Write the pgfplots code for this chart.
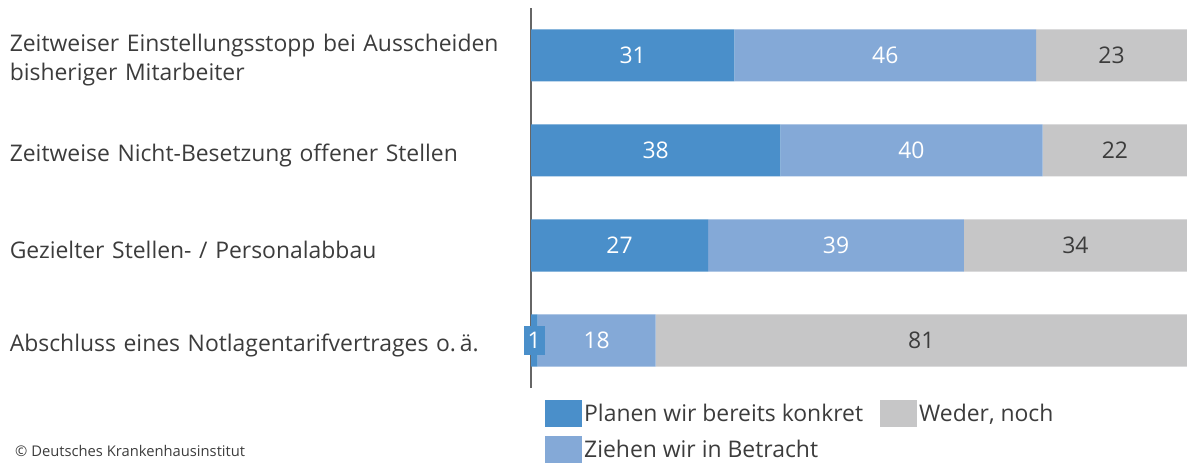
\documentclass[border=0pt]{standalone}
\usepackage{fontspec}
\setmainfont{Open Sans}
\usepackage{pgfplots}
\usepackage{pgfplotstable}
\pgfplotsset{compat=1.18}
\definecolor{cDark}{HTML}{4A8FCA}
\definecolor{cLight}{HTML}{84A9D7}
\definecolor{cGrey}{HTML}{C6C6C7}
\definecolor{cText}{HTML}{3C3C3C}
\definecolor{cAxis}{HTML}{666666}

% segment values
\pgfplotstableread{
y v
3 31
2 38
1 27
0 1
}\planen
\pgfplotstableread{
y v
3 46
2 40
1 39
0 18
}\ziehen
\pgfplotstableread{
y v
3 23
2 22
1 34
0 81
}\weder
% label positions (segment midpoints)
\pgfplotstableread{
x y lab
15.5 3 31
19 2 38
13.5 1 27
0.5 0 1
}\labA
\pgfplotstableread{
x y lab
54 3 46
58 2 40
46.5 1 39
10 0 18
}\labB
\pgfplotstableread{
x y lab
88.5 3 23
89 2 22
83 1 34
59.5 0 81
}\labC

\pgfplotsset{myleg/.style={legend image code/.code={\fill[##1] (0bp,-13.5bp) rectangle (37bp,13.5bp);}},
  labplot/.style={only marks, mark=none, forget plot, point meta=explicit symbolic,
    nodes near coords, every node near coord/.style={anchor=center, font=\fontsize{23}{27}\selectfont, #1}},
  geom/.style={at={(531bp,76bp)}, anchor=south west,
  scale only axis, width=656bp, height=380bp,
  xmin=0, xmax=100, ymin=-0.5, ymax=3.5, clip=false}}

\begin{document}
\begin{tikzpicture}
\useasboundingbox (0,0) rectangle (1187bp,464bp);
\begin{axis}[
  geom,
  xbar stacked, bar width=52bp,
  hide x axis,
  axis y line*=left,
  y axis line style={draw=cAxis, line width=2bp, -},
  ytick={0,1,2,3},
  yticklabels={Abschluss eines Notlagentarifvertrages o.\,ä., Gezielter Stellen- / Personalabbau, Zeitweise Nicht-Besetzung offener Stellen, {Zeitweiser Einstellungsstopp bei Ausscheiden\\bisheriger Mitarbeiter}},
  major tick length=0pt,
  yticklabel style={font=\fontsize{23}{30}\selectfont, text=cText, anchor=east, text width=521bp, align=left, inner sep=0pt, yshift=-4.5bp},
  legend style={draw=none, fill=none, at={(axis description cs:0.0168,-0.025)}, anchor=north west,
    font=\fontsize{23}{27}\selectfont, text=cText, row sep=9bp, /tikz/every even column/.append style={column sep=15bp}},
  legend cell align=left,
  transpose legend, legend columns=2,
]
\addplot[fill=cDark, draw=none, myleg] table[x=v, y=y] {\planen};
\addlegendentry{Planen wir bereits konkret}
\addplot[fill=cLight, draw=none, myleg] table[x=v, y=y] {\ziehen};
\addlegendentry{Ziehen wir in Betracht}
\addplot[fill=cGrey, draw=none, myleg] table[x=v, y=y] {\weder};
\addlegendentry{Weder, noch}
\end{axis}
\begin{axis}[geom, hide axis]
\addplot[labplot={text=white, fill=cDark, inner xsep=4bp, inner ysep=6.5bp}] table[x=x, y=y, meta=lab] {\labA};
\addplot[labplot={text=white}] table[x=x, y=y, meta=lab] {\labB};
\addplot[labplot={text=cText}] table[x=x, y=y, meta=lab] {\labC};
\end{axis}
\node[anchor=west, font=\fontsize{14.8}{18}\selectfont, text=cText, inner sep=0pt] at (15bp,13.5bp) {© Deutsches Krankenhausinstitut};
\end{tikzpicture}
\end{document}
